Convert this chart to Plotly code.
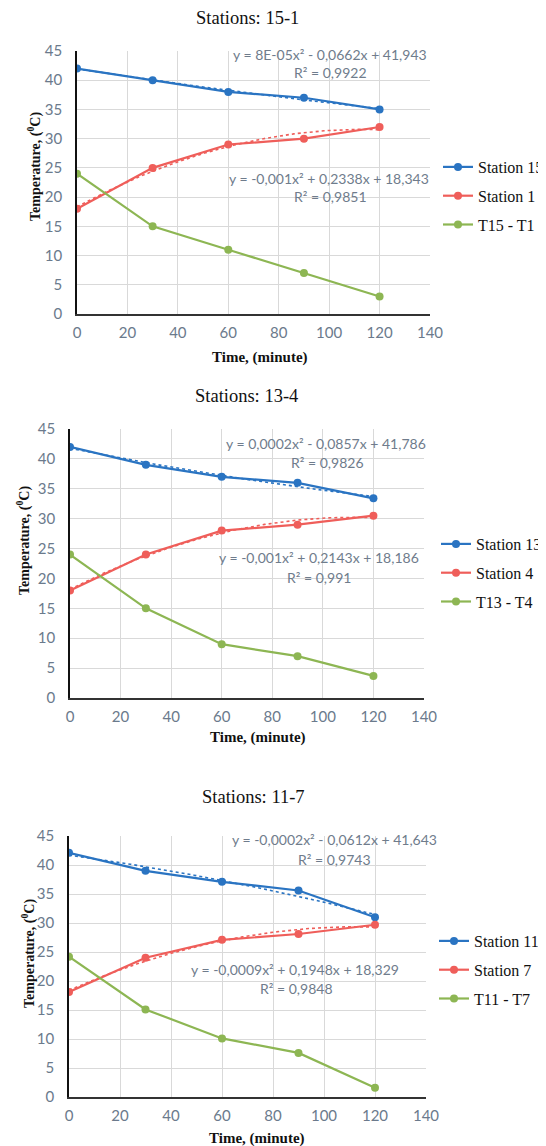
import numpy as np
import plotly.graph_objects as go

# The page body adds an 8px margin, so the figure is drawn 8px in from the window corner.
OFF = 8
W, H = 546 - OFF, 1146 - OFF

time_min = [0, 30, 60, 90, 120]

# Chart 1: Stations 15-1
st15 = [42, 40, 38, 37, 35]
st1 = [18, 25, 29, 30, 32]
d15_1 = [24, 15, 11, 7, 3]
# Chart 2: Stations 13-4
st13 = [42, 39, 37, 36, 33.4]
st4 = [18, 24, 28, 29, 30.5]
d13_4 = [24, 15, 9, 7, 3.7]
# Chart 3: Stations 11-7
st11 = [42.1, 39, 37.1, 35.6, 31]
st7 = [18.1, 24, 27.1, 28.1, 29.7]
d11_7 = [24.2, 15.1, 10.1, 7.6, 1.6]

titles = ["Stations: 15-1", "Stations: 13-4", "Stations: 11-7"]
names = [["Station 15", "Station 1", "T15 - T1"],
         ["Station 13", "Station 4", "T13 - T4"],
         ["Station 11", "Station 7", "T11 - T7"]]
eqs = [["y = 8E-05x² - 0,0662x + 41,943", "R² = 0,9922",
        "y = -0,001x² + 0,2338x + 18,343", "R² = 0,9851"],
       ["y = 0,0002x² - 0,0857x + 41,786", "R² = 0,9826",
        "y = -0,001x² + 0,2143x + 18,186", "R² = 0,991"],
       ["y = -0,0002x² - 0,0612x + 41,643", "R² = 0,9743",
        "y = -0,0009x² + 0,1948x + 18,329", "R² = 0,9848"]]
series = [[st15, st1, d15_1], [st13, st4, d13_4], [st11, st7, d11_7]]

BLUE, RED, GREEN = "#2A74C2", "#EF5E5A", "#8DB653"
colors = [BLUE, RED, GREEN]
TICK = "#6B7A8C"

def px(x):
    return (x - OFF) / W

def py(y):
    return 1 - (y - OFF) / H

# plot areas in window pixels: (x0, x1, ytop, ybottom)
areas = [(77, 430, 51, 314), (70, 424, 429, 698), (69, 426, 836, 1097)]
title_pos = [(247, 18), (246, 396), (253, 797)]
xtitle_pos = [(260, 357), (258, 737), (257, 1138)]
ytitle_pos = [(34, 167), (23, 541), (28, 954)]
legend_pos = [(438, 196), (436, 573), (434, 970)]
eq_pos = [[(330, 54), (330, 73), (329, 178), (330, 197)],
          [(326, 443), (327, 463), (319, 557), (319, 577)],
          [(334, 839), (334, 859), (295, 969), (296, 988)]]

fig = go.Figure()
layout = dict(width=W, height=H, margin=dict(l=0, r=0, t=0, b=0, autoexpand=False),
              plot_bgcolor="white", paper_bgcolor="white", showlegend=True)
annotations = []
xfine = np.linspace(0, 120, 121)

for i in range(3):
    sfx = "" if i == 0 else str(i + 1)
    xa, ya = "x" + sfx, "y" + sfx
    lg = "legend" + sfx
    for j in range(3):
        y = series[i][j]
        fig.add_trace(go.Scatter(
            x=time_min, y=y, mode="lines+markers", name=names[i][j],
            line=dict(color=colors[j], width=2.2),
            marker=dict(color=colors[j], size=8),
            xaxis=xa, yaxis=ya, legend=lg, legendgroup=f"g{i}{j}"))
        if j < 2:
            c = np.polyfit(time_min, y, 2)
            fig.add_trace(go.Scatter(
                x=xfine, y=np.polyval(c, xfine), mode="lines",
                line=dict(color=colors[j], width=1.6, dash="dot"),
                showlegend=False, hoverinfo="skip", xaxis=xa, yaxis=ya))
    x0, x1, yt, yb = areas[i]
    layout["xaxis" + sfx] = dict(
        domain=[px(x0), px(x1)], range=[0, 140], dtick=20, anchor=ya,
        showgrid=True, gridcolor="#D9D9D9", gridwidth=1,
        showline=True, linecolor="#333333", linewidth=1.5, zeroline=False,
        tickfont=dict(family="Lato", size=15, color=TICK), ticks="",
        ticklabelstandoff=4, automargin=False)
    layout["yaxis" + sfx] = dict(
        domain=[py(yb), py(yt)], range=[0, 45], dtick=5, anchor=xa,
        showgrid=True, gridcolor="#D9D9D9", gridwidth=1,
        showline=True, linecolor="#111111", linewidth=1.5, zeroline=False,
        tickfont=dict(family="Lato", size=15, color=TICK), ticks="",
        ticklabelstandoff=10, automargin=False)
    lx, ly = legend_pos[i]
    layout[lg] = dict(x=px(lx), y=py(ly), xanchor="left", yanchor="middle",
                      font=dict(family="Liberation Serif", size=16, color="#111111"),
                      bgcolor="rgba(0,0,0,0)", tracegroupgap=5, itemwidth=30)
    tx, ty = title_pos[i]
    annotations.append(dict(text=titles[i], x=px(tx), y=py(ty), xref="paper", yref="paper",
                            showarrow=False, xanchor="center", yanchor="middle",
                            font=dict(family="Liberation Serif", size=18.5, color="#111111")))
    tx, ty = xtitle_pos[i]
    annotations.append(dict(text="<b>Time, (minute)</b>", x=px(tx), y=py(ty), xref="paper", yref="paper",
                            showarrow=False, xanchor="center", yanchor="middle",
                            font=dict(family="Liberation Serif", size=15, color="#111111")))
    tx, ty = ytitle_pos[i]
    annotations.append(dict(text="<b>Temperature, (<sup>0</sup>C)</b>", x=px(tx), y=py(ty),
                            xref="paper", yref="paper", textangle=-90,
                            showarrow=False, xanchor="center", yanchor="middle",
                            font=dict(family="Liberation Serif", size=14, color="#111111")))
    for k in range(4):
        ex, ey = eq_pos[i][k]
        annotations.append(dict(text=eqs[i][k], x=px(ex), y=py(ey), xref="paper", yref="paper",
                                showarrow=False, xanchor="center", yanchor="middle",
                                font=dict(family="Lato", size=14, color="#6F7C8C")))

layout["annotations"] = annotations
fig.update_layout(**layout)
fig.write_html("out.html")
